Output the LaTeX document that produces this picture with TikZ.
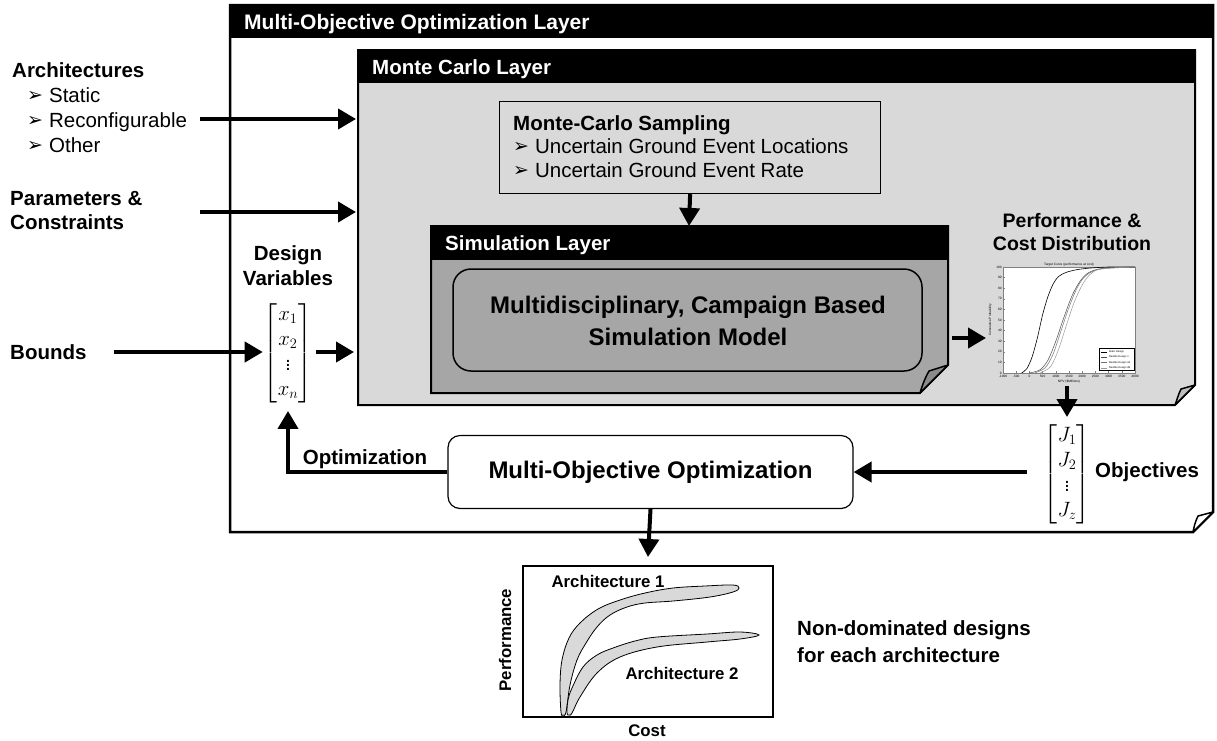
\documentclass[tikz,border=0pt]{standalone}
\usepackage{amsmath}
\usepackage{fontspec}
\setmainfont{Liberation Sans}
\newfontfamily\dvfont{DejaVu Sans}
\usetikzlibrary{arrows.meta}
\definecolor{lightg}{HTML}{D9D9D9}
\definecolor{midg}{HTML}{A6A6A6}
\definecolor{darkg}{HTML}{8A8A8A}
\definecolor{flapg}{HTML}{BFBFBF}
\newcommand\fsz[2]{\fontsize{#1}{#2}\selectfont}
\newcommand\blt{{\dvfont\fsz{19}{19}\raisebox{0.5pt}{➢}}\hspace{6pt}}
\begin{document}
\begin{tikzpicture}[x=1pt,y=-1pt,
  arr/.style={line width=4pt,-{Triangle[length=18pt,width=20pt]}},
  hdr/.style={text=white,font=\bfseries\fsz{20.5}{24},anchor=base west,inner sep=0},
  lbl/.style={font=\bfseries\fsz{20.5}{24},anchor=base west,inner sep=0},
  reg/.style={font=\fsz{20.5}{24},anchor=base west,inner sep=0},
  tiny/.style={font=\fsz{3.2}{3.6},inner sep=0.4pt},
  mat/.style={font=\fsz{19.5}{23},inner sep=1pt}]
\useasboundingbox (0,0) rectangle (1217,740);
% ---------- outer layer
\draw[line width=2.5pt,fill=white] (230,5) -- (1213,5) -- (1213,512) -- (1193,532) -- (230,532) -- cycle;
\fill[black] (230,5) rectangle (1213,38);
\draw[line width=1.5pt,fill=white,line join=round] (1213,512) -- (1198,516) .. controls (1195,522) and (1194,527) .. (1193,532) -- cycle;
\node[hdr,font=\bfseries\fsz{21}{24}] (hdrmoo) at (244,29) {Multi-Objective Optimization Layer};
% ---------- Monte Carlo layer
\draw[line width=2pt,fill=lightg] (358,50) -- (1195,50) -- (1195,385) -- (1175,405) -- (358,405) -- cycle;
\fill[black] (358,50) rectangle (1195,83);
\draw[line width=1.5pt,fill=flapg,line join=round] (1195,385) -- (1181,389) .. controls (1178,395) and (1177,400) .. (1175,405) -- cycle;
\node[hdr] (hdrmc) at (372,74) {Monte Carlo Layer};
% ---------- MC sampling box
\node[draw,line width=1.2pt,fill=lightg,minimum width=381pt,minimum height=92pt,anchor=north west,inner sep=0] (mcs) at (499,101) {};
\node[lbl] (mcs1) at (513,130) {Monte-Carlo Sampling};
\node[reg] (mcs2) at (513,153) {\blt Uncertain Ground Event Locations};
\node[reg] (mcs3) at (513,177) {\blt Uncertain Ground Event Rate};
% ---------- Simulation layer
\draw[line width=2pt,fill=midg] (431,226) -- (948,226) -- (948,365) -- (920,393) -- (431,393) -- cycle;
\fill[black] (431,226) rectangle (948,260);
\draw[line width=1.5pt,fill=darkg,line join=round] (948,365) -- (929,371) .. controls (925,378) and (922,386) .. (920,393) -- cycle;
\node[hdr] (hdrsim) at (445,250) {Simulation Layer};
\node[draw,rounded corners=18pt,line width=1.5pt,fill=midg,minimum width=469pt,minimum height=102pt,inner sep=0] (simmodel) at (687.5,320) {};
\node[font=\bfseries\fsz{24}{28},anchor=base,inner sep=0] (sim1) at (688,313.5) {Multidisciplinary, Campaign Based};
\node[font=\bfseries\fsz{24}{28},anchor=base,inner sep=0] (sim2) at (688,345.5) {Simulation Model};
% ---------- left labels
\node[lbl] (archt) at (12,77) {Architectures};
\node[reg] (arch1) at (27,102) {\blt Static};
\node[reg] (arch2) at (27,127) {\blt Reconfigurable};
\node[reg] (arch3) at (27,152) {\blt Other};
\node[lbl] (par1) at (10,205) {Parameters \&};
\node[lbl] (par2) at (10,229) {Constraints};
\node[lbl,anchor=base] (dv1) at (288,260) {Design};
\node[lbl,anchor=base] (dv2) at (288,285) {Variables};
\node[lbl] (bounds) at (10,359) {Bounds};
\node[mat] (xmat) at (288,353) {$\renewcommand\arraystretch{1.08}\begin{bmatrix}x_1\\x_2\\\vdots\\x_n\end{bmatrix}$};
% ---------- chart
\node[font=\bfseries\fsz{19.5}{24},anchor=base,inner sep=0] (pc1) at (1072,227) {Performance \&};
\node[font=\bfseries\fsz{19.5}{24},anchor=base,inner sep=0] (pc2) at (1072,250) {Cost Distribution};
\begin{scope}[shift={(1003,373)},x=0.0264pt,y=1.06pt]
  \fill[white] (0,0) rectangle (5000,100);
  \draw[line width=0.3pt,gray] (0,0) rectangle (5000,100);
  \foreach \p in {0,10,...,100}{
    \draw[line width=0.3pt,gray] (0,\p) -- (60,\p);
    \node[tiny,anchor=east] (yt\p) at (-30,\p) {\p};}
  \foreach \v [count=\i from 0] in {-1000,-500,0,500,1000,1500,2000,2500,3000,3500,4000}{
    \draw[line width=0.3pt,gray] (\i*500,0) -- (\i*500,2);
    \node[tiny,anchor=north] (xt\i) at (\i*500,-1.5) {\v};}
  \node[tiny,anchor=south] (ctitle) at (2500,100.5) {Target Curve (performance at cost)};
  \node[tiny,anchor=north] (cxl) at (2500,-6.5) {NPV (\$Millions)};
  \node[tiny,rotate=90] (cyl) at (-480,50) {Cumulative Probability};
  \draw[line width=0.6pt,black] plot[smooth] coordinates {(700,0) (900,4) (1100,15) (1300,33) (1500,55) (1700,72) (1900,84) (2100,91) (2400,95) (2800,97.5) (3300,99) (4000,100) (5000,100)};
  \draw[line width=0.5pt,black!70] plot[smooth] coordinates {(1000,0) (1400,3) (1700,12) (2000,30) (2300,52) (2600,72) (2900,86) (3200,94) (3600,98) (4200,99.5) (5000,100)};
  \draw[line width=0.5pt,black!55] plot[smooth] coordinates {(1200,0) (1600,5) (1900,18) (2200,40) (2500,62) (2800,80) (3100,91) (3500,97) (4000,99) (5000,100)};
  \draw[line width=0.5pt,black!40] plot[smooth] coordinates {(1400,0) (1800,6) (2100,22) (2400,45) (2700,67) (3000,83) (3300,93) (3700,98) (5000,100)};
  \draw[line width=0.3pt,fill=white] (3650,3) rectangle (4950,23);
  \foreach \n/\c/\yy in {Static Design/black/20,Flexible Design 1/black!70/15,Flexible Design 2A/black!55/10,Flexible Design 2B/black!40/5}{
    \draw[line width=0.4pt,\c] (3700,\yy) -- (3950,\yy);
    \node[font=\fsz{2.6}{3},inner sep=0,anchor=west] (lg\yy) at (4000,\yy) {\n};}
\end{scope}
% ---------- objectives
\node[mat] (jmat) at (1067,474) {$\renewcommand\arraystretch{1.08}\begin{bmatrix}J_1\\J_2\\\vdots\\J_z\end{bmatrix}$};
\node[lbl] (obj) at (1095,477) {Objectives};
% ---------- MOO box
\node[draw,rounded corners=12pt,line width=1.2pt,fill=white,minimum width=405pt,minimum height=73pt,inner sep=0,font=\bfseries\fsz{24}{28}] (moo) at (650.5,472) {Multi-Objective Optimization};
\node[font=\bfseries\fsz{20.5}{24},anchor=base,inner sep=0] (optlbl) at (365,464) {Optimization};
% ---------- Pareto plot
\node[draw,line width=2pt,minimum width=250pt,minimum height=151pt,inner sep=0] (pareto) at (648,641.5) {};
\filldraw[fill=lightg,line width=0.8pt] plot[smooth cycle,tension=0.6] coordinates {(561,712) (560,685) (562,660) (569,638) (580,623) (598,609) (620,600) (645,593) (673,588) (705,586) (733,585) (739,588) (733,592) (710,597) (673,601) (645,603) (627,607) (610,615) (597,627) (586,643) (577,660) (570,685) (566,712) (563,715)};
\filldraw[fill=lightg,line width=0.8pt] plot[smooth cycle,tension=0.6] coordinates {(567,713) (568,700) (572,688) (583,667) (597,655) (613,648) (635,641) (657,637) (707,634) (740,632) (759,635) (740,639) (707,642) (657,647) (620,657) (597,673) (580,697) (572,713) (569,715)};
\node[font=\bfseries\fsz{16.8}{20},anchor=base,inner sep=0] (a1lbl) at (608,587) {Architecture 1};
\node[font=\bfseries\fsz{16.8}{20},anchor=base,inner sep=0] (a2lbl) at (682,679) {Architecture 2};
\node[font=\bfseries\fsz{16.8}{20},rotate=90,inner sep=0] (perf) at (505,640) {Performance};
\node[font=\bfseries\fsz{16.8}{20},anchor=base,inner sep=0] (cost) at (647,736) {Cost};
\node[lbl] (nd1) at (797,635) {Non-dominated designs};
\node[lbl] (nd2) at (797,662) {for each architecture};
% ---------- connectors
\coordinate (a1s) at (200,119); \coordinate (a1e) at (356,119);
\coordinate (a2s) at (200,212); \coordinate (a2e) at (356,212);
\coordinate (bs) at (114,352);
\coordinate (mcw) at (354,352);
\coordinate (simn) at (689,226);
\coordinate (sime) at (952,338); \coordinate (chartw) at (986,338);
\coordinate (charts) at (1067,386); \coordinate (jn) at (1067,417);
\draw[arr] (a1s) -- (a1e);
\draw[arr] (a2s) -- (a2e);
\draw[arr] (bs) -- (xmat.west |- bs);
\draw[arr] (xmat.east |- bs) ++(3pt,0) -- (mcw);
\draw[arr] (mcs.south) -- (simn);
\draw[arr] (sime) -- (chartw);
\draw[arr] (charts) -- (jn);
\draw[arr] ([xshift=-16pt]jmat.west |- moo.east) -- (moo.east);
\draw[arr] (moo.west) -| ([yshift=-7pt]xmat.south);
\draw[arr] (moo.south) -- ([yshift=8pt]pareto.north);
\end{tikzpicture}
\end{document}
